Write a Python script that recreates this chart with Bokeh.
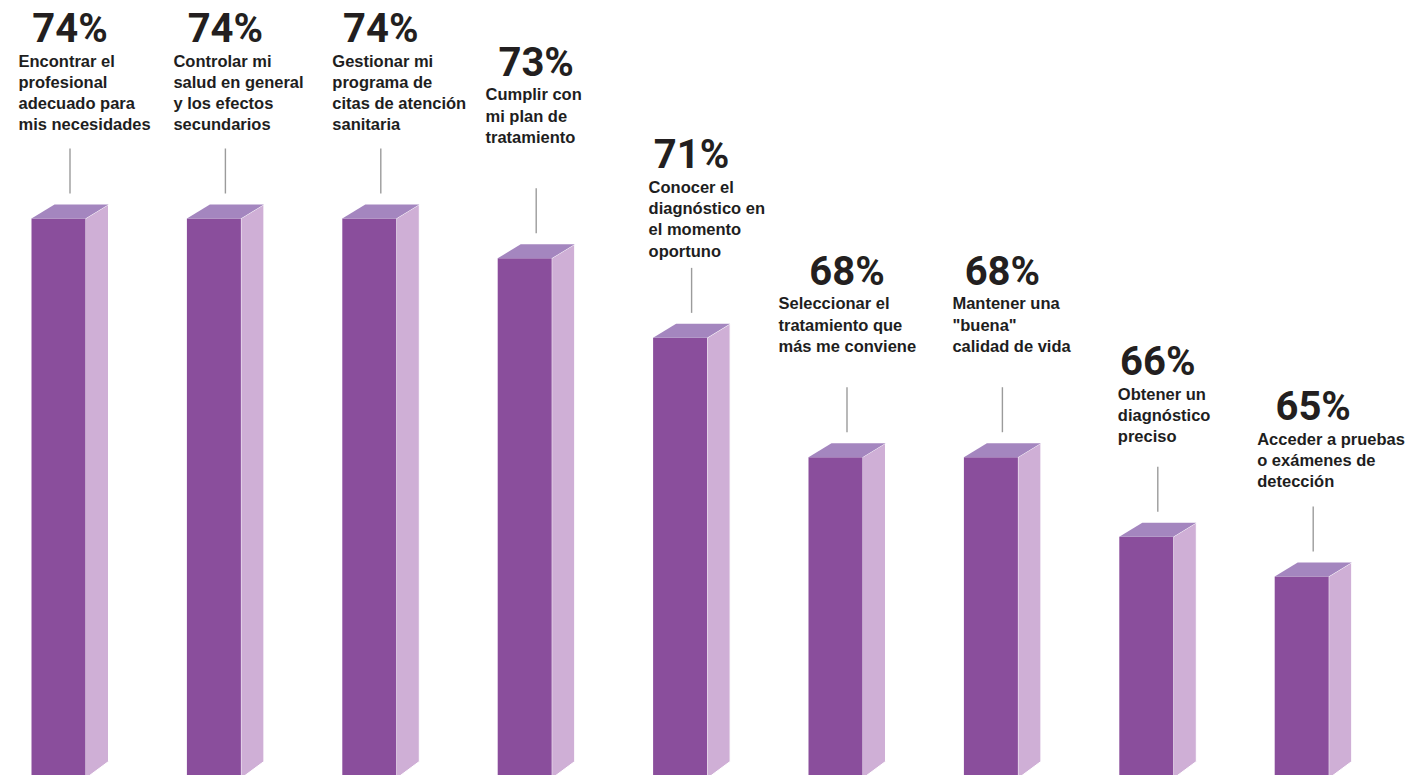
from bokeh.plotting import figure
from bokeh.models import Range1d, ColumnDataSource
from bokeh.core.properties import value
from bokeh.embed import file_html
from bokeh.resources import INLINE

# ---------------- data ----------------
LABELS = [
    "Encontrar el\nprofesional\nadecuado para\nmis necesidades",
    "Controlar mi\nsalud en general\ny los efectos\nsecundarios",
    "Gestionar mi\nprograma de\ncitas de atención\nsanitaria",
    "Cumplir con\nmi plan de\ntratamiento",
    "Conocer el\ndiagnóstico en\nel momento\noportuno",
    "Seleccionar el\ntratamiento que\nmás me conviene",
    "Mantener una\n\"buena\"\ncalidad de vida",
    "Obtener un\ndiagnóstico\npreciso",
    "Acceder a pruebas\no exámenes de\ndetección",
]
VALUES = [74, 74, 74, 73, 71, 68, 68, 66, 65]

# ---------------- layout (pixels) ----------------
W, H = 1421, 775
STEP_PX = 155.4          # distance between bars
FIRST_CENTER_PX = 69.5   # centre of first bar (front + side)
LABEL_LIFT = [176, 176, 176, 182, 169, 172, 172, 161, 156]   # bar top -> % baseline
TEXT_DX = [-51.5, -52, -48.5, -50.7, -43, -68.5, -50, -40, -56]  # text left vs bar centre
PCT_SHIFT = 14     # rendering correction (px up)
LBL_SHIFT = 9

Y0, Y1 = 60.0, 79.48
X0 = -FIRST_CENTER_PX / STEP_PX
X1 = X0 + W / STEP_PX
XPX = (X1 - X0) / W
YPX = (Y1 - Y0) / H

FRONT_L, FRONT_R, BACK_R = -38.5, 15.5, 38.5
DX, DY = 23, 14

FRONT = "#8a4e9c"
TOP = "#a486bf"
SIDE = "#cfafd6"

p = figure(width=W, height=H, x_range=Range1d(X0, X1), y_range=Range1d(Y0, Y1),
           output_backend="svg", toolbar_location=None, min_border=0,
           background_fill_color="white", border_fill_color="white")
p.outline_line_color = None
p.xaxis.visible = False
p.yaxis.visible = False
p.xgrid.visible = False
p.ygrid.visible = False

base = Y0 - 3 * YPX
front_xs, front_ys, top_xs, top_ys, side_xs, side_ys = [], [], [], [], [], []
for i, v in enumerate(VALUES):
    l = i + FRONT_L * XPX
    r = i + FRONT_R * XPX
    rb = r + DX * XPX
    lb = l + DX * XPX
    up = DY * YPX
    front_xs.append([l, r, r, l]); front_ys.append([base, base, v, v])
    top_xs.append([l, lb, rb, r]); top_ys.append([v, v + up, v + up, v])
    side_xs.append([r, rb, rb, r]); side_ys.append([base, base + 17 * YPX, v + up, v])

p.patches(side_xs, side_ys, fill_color=SIDE, line_color="white", line_width=1)
p.patches(front_xs, front_ys, fill_color=FRONT, line_color=None)
p.patches(top_xs, top_ys, fill_color=TOP, line_color=None)

# connectors
cx = list(range(len(VALUES)))
p.segment(x0=cx, y0=[v + 70 * YPX for v in VALUES], x1=cx, y1=[v + 25 * YPX for v in VALUES],
          line_color="#9b9b9b", line_width=1.4)

# percentages
pct_src = ColumnDataSource(dict(
    x=cx,
    y=[v + (LABEL_LIFT[i] + PCT_SHIFT) * YPX for i, v in enumerate(VALUES)],
    t=[f"{v}%" for v in VALUES]))
p.text(x="x", y="y", text="t", source=pct_src, text_font=value("Roboto"),
       text_font_style="bold", text_font_size="40px", text_color="#231f20",
       text_align="center", text_baseline="alphabetic")

# labels
lx, ly, lt = [], [], []
for i, (v, lab) in enumerate(zip(VALUES, LABELS)):
    pb = v + (LABEL_LIFT[i] + LBL_SHIFT) * YPX
    for j, line in enumerate(lab.split("\n")):
        lx.append(i + TEXT_DX[i] * XPX)
        ly.append(pb - (27 + 21.3 * j) * YPX)
        lt.append(line)
p.text(x=lx, y=ly, text=lt, text_font=value("Liberation Sans"), text_font_style="bold",
       text_font_size="16.5px", text_color="#1e1e1e", text_align="left",
       text_baseline="alphabetic")

open("out.html", "w").write(file_html(p, INLINE))
